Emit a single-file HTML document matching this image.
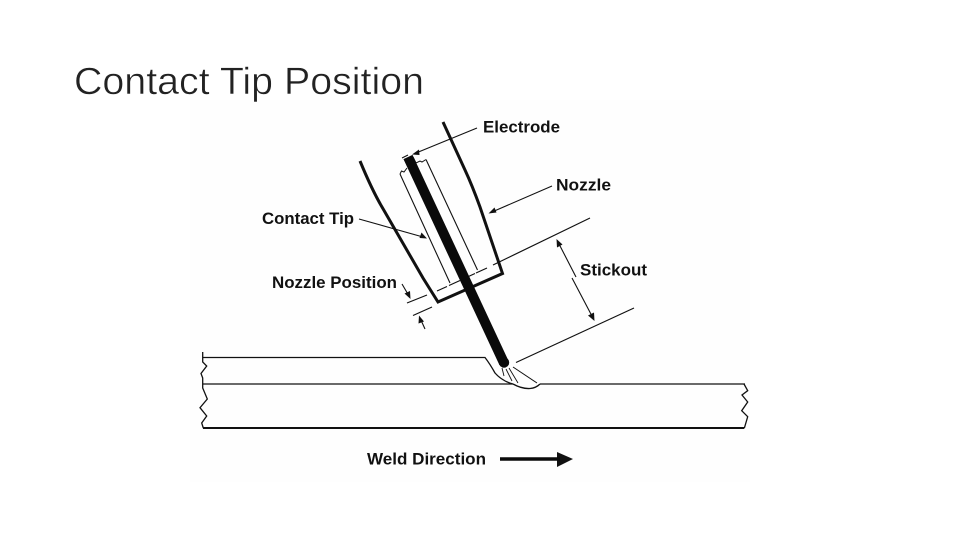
<!DOCTYPE html>
<html>
<head>
<meta charset="utf-8">
<style>
html,body{margin:0;padding:0;background:#fff;}
svg{display:block;}
text{font-family:"Liberation Sans",sans-serif;}
.l{font-weight:bold;font-size:17px;fill:#111;}
</style>
</head>
<body>
<svg width="960" height="540" viewBox="0 0 960 540" xmlns="http://www.w3.org/2000/svg">
<rect width="960" height="540" fill="#fff"/>
<rect x="190" y="100" width="560" height="382" fill="#fefefe"/>
<text x="74" y="94" font-size="38" fill="#222" stroke="#fff" stroke-width="0.5" textLength="350" lengthAdjust="spacingAndGlyphs">Contact Tip Position</text>

<g fill="none" stroke="#111" stroke-linejoin="miter" stroke-linecap="butt">
  <!-- nozzle -->
  <path d="M443 122 L465 170 Q472 185 480 207 L502.5 273.5 L438 302 L423 278 L382 207 Q372 190 360 161" stroke-width="3"/>
  <!-- contact tip -->
  <path d="M426 159.5 L477.5 270" stroke-width="1.1"/>
  <path d="M400 174 L450 283" stroke-width="1.1"/>
  <path d="M413 157 L416 163 L420 161 L422 162 L426 159.5" stroke-width="1"/>
  <path d="M400 174 L401.5 171 L404 172 L407 168" stroke-width="1"/>
  <path d="M402 158 L408 155" stroke-width="1"/>
  <!-- nozzle-position line with dashes -->
  <path d="M407 303 L427 295" stroke-width="1.2"/>
  <path d="M437 291 L447 286.500 M449 285.500 L460 280.500 M463 279 L475 273.500 M476 273 L487 268 M493 265 L590 218" stroke-width="1.2"/>
  <path d="M413 315.500 L432 307" stroke-width="1.2"/>
  <path d="M516 362.500 L634 308" stroke-width="1.2"/>
  <!-- leaders -->
  <path d="M477 128 L416 153" stroke-width="1.1"/>
  <path d="M552 186 L492 212" stroke-width="1.1"/>
  <path d="M359 219 L423 237" stroke-width="1.1"/>
  <path d="M402 284 L409 296" stroke-width="1.1"/>
  <path d="M425 329 L420 318" stroke-width="1.1"/>
  <path d="M558 242 L576 277" stroke-width="1.1"/>
  <path d="M572 278 L593 318" stroke-width="1.1"/>
  <!-- workpiece -->
  <path d="M203 357.500 L485 357.500 Q490 364 495 373 Q502 381 513 384 L203 384" stroke-width="1.3"/>
  <path d="M540 384 L745 384" stroke-width="1.3"/>
  <path d="M513 384 Q522 389 530 388.500 Q536 388 540 384" stroke-width="1.3"/>
  <path d="M513 367 L537 383" stroke-width="1"/>
  <path d="M502 368 L504 376 M506 369 L512 381 M509 368 L518 383" stroke-width="0.9"/>
  <path d="M203 428 L744 428" stroke-width="2"/>
  <!-- break lines -->
  <path d="M202.700 352 L202.700 362 L206.700 366 L201 373.500 L202.700 378 L202.700 388 L207.300 399 L200 407.700 L206.700 416 L201.700 423 L203.300 428" stroke-width="1.3"/>
  <path d="M744 384 L747.700 390.700 L742 395 L747.700 402 L741.700 410.700 L747.700 416.700 L744.300 428.300" stroke-width="1.3"/>
</g>

<!-- electrode -->
<path d="M408 157 L504 363" stroke="#0a0a0a" stroke-width="10" fill="none"/>
<circle cx="504" cy="362.500" r="5.200" fill="#0a0a0a"/>

<!-- arrowheads -->
<g fill="#111">
  <path d="M412 154.500 L419 149.500 L419.500 155 Z"/>
  <path d="M488.500 213.500 L494.500 207.500 L496.500 212.500 Z"/>
  <path d="M427 238.500 L419.500 238 L421.500 232.500 Z"/>
  <path d="M410.500 299 L404.500 293.500 L410 291 Z"/>
  <path d="M419 315.500 L424 321.500 L418.500 323.500 Z"/>
  <path d="M556.500 239 L562.500 244.500 L557 247.500 Z"/>
  <path d="M594.500 321 L588 315.500 L594 312.500 Z"/>
  <path d="M573 459 L557 452 L557 467 Z"/>
</g>
<path d="M500 459 L560 459" stroke="#0a0a0a" stroke-width="3.500" fill="none"/>

<!-- labels -->
<text class="l" x="483" y="132.500" textLength="77" lengthAdjust="spacingAndGlyphs">Electrode</text>
<text class="l" x="556" y="190.500" textLength="55" lengthAdjust="spacingAndGlyphs">Nozzle</text>
<text class="l" x="262" y="224" textLength="92" lengthAdjust="spacingAndGlyphs">Contact Tip</text>
<text class="l" x="272" y="288" textLength="125" lengthAdjust="spacingAndGlyphs">Nozzle Position</text>
<text class="l" x="580" y="275.500" textLength="67" lengthAdjust="spacingAndGlyphs">Stickout</text>
<text class="l" x="367" y="464.500" textLength="119" lengthAdjust="spacingAndGlyphs">Weld Direction</text>
</svg>
</body>
</html>
